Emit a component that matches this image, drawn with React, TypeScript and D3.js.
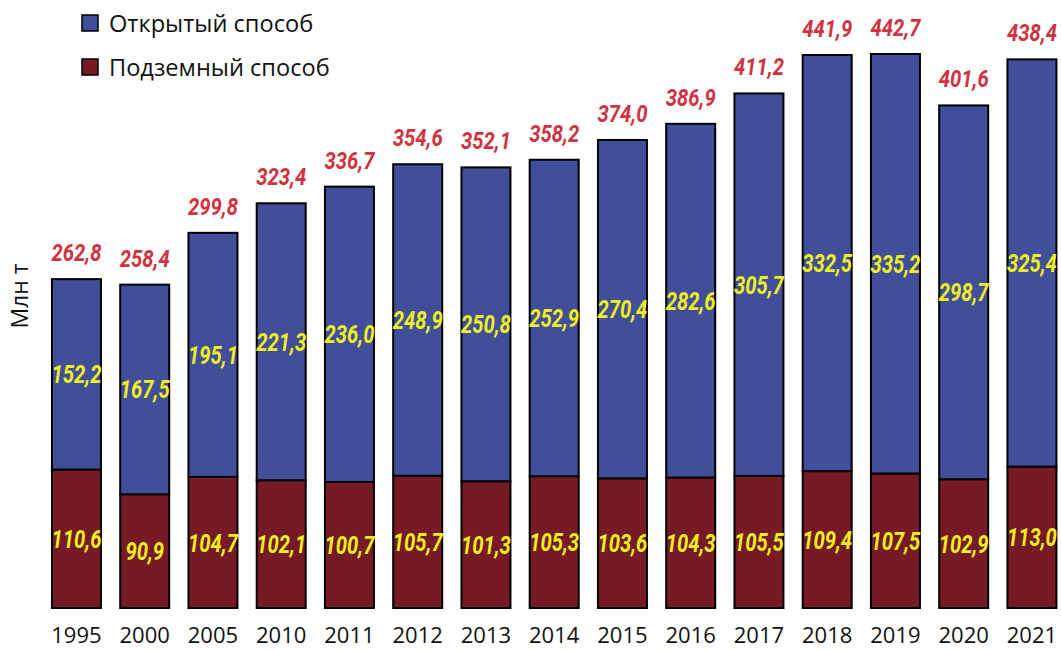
import React from "react";
import * as d3 from "d3";

const years = ["1995", "2000", "2005", "2010", "2011", "2012", "2013", "2014", "2015", "2016", "2017", "2018", "2019", "2020", "2021"];
const openPit = [152.2, 167.5, 195.1, 221.3, 236.0, 248.9, 250.8, 252.9, 270.4, 282.6, 305.7, 332.5, 335.2, 298.7, 325.4];
const underground = [110.6, 90.9, 104.7, 102.1, 100.7, 105.7, 101.3, 105.3, 103.6, 104.3, 105.5, 109.4, 107.5, 102.9, 113.0];
const totals = [262.8, 258.4, 299.8, 323.4, 336.7, 354.6, 352.1, 358.2, 374.0, 386.9, 411.2, 441.9, 442.7, 401.6, 438.4];
const seriesNames = ["Открытый способ", "Подземный способ"];
const yLabel = "Млн т";

const W = 1061;
const H = 650;
const colors = ["#414e99", "#761a25"];
const fmt = (v: number) => v.toFixed(1).replace(".", ",");
const labelFont = "Roboto, 'Noto Sans', sans-serif";
const textFont = "'Open Sans', 'Noto Sans', sans-serif";

export default function App() {
  const x = d3
    .scaleBand<string>()
    .domain(years)
    .range([42.4, 1066])
    .paddingInner(0.282)
    .paddingOuter(0.14);

  const y = d3.scaleLinear().domain([0, 441.9]).range([608, 55]);
  const bw = x.bandwidth();

  // yellow value label, squeezed to look like a condensed face
  const inner = (cx: number, cy: number, v: number) => (
    <text
      transform={`translate(${cx},${cy}) scale(0.81,1)`}
      dy="0.36em"
      textAnchor="middle"
      fontFamily={labelFont}
      fontWeight="bold"
      fontStyle="italic"
      fontSize={25}
      fill="#eeee22"
    >
      {fmt(v)}
    </text>
  );

  return (
    <div style={{ position: "absolute", left: 0, top: 0 }}>
      <svg width={W} height={H} style={{ display: "block", background: "#fff" }}>
        {years.map((yr, i) => {
          const x0 = x(yr) as number;
          const cx = x0 + bw / 2;
          const yU = y(underground[i]);
          const yT = y(underground[i] + openPit[i]);
          return (
            <g key={yr}>
              <rect x={x0} y={yU} width={bw} height={y(0) - yU} fill={colors[1]} stroke="#000" strokeWidth={2} />
              <rect x={x0} y={yT} width={bw} height={yU - yT} fill={colors[0]} stroke="#000" strokeWidth={2} />
              {inner(cx, (yU + y(0)) / 2, underground[i])}
              {inner(cx, (yU + yT) / 2, openPit[i])}
              <text
                transform={`translate(${cx},${y(totals[i]) - 18}) scale(0.88,1)`}
                textAnchor="middle"
                fontFamily={labelFont}
                fontWeight="bold"
                fontStyle="italic"
                fontSize={23}
                fill="#d1323f"
              >
                {fmt(totals[i])}
              </text>
              <text
                x={cx}
                y={643}
                textAnchor="middle"
                fontFamily={textFont}
                fontSize={22}
                fill="#111"
              >
                {yr}
              </text>
            </g>
          );
        })}

        <text
          transform={`translate(28,${296}) rotate(-90)`}
          textAnchor="middle"
          fontFamily={textFont}
          fontSize={23}
          fill="#111"
        >
          {yLabel}
        </text>

        {seriesNames.map((name, i) => (
          <g key={name} transform={`translate(82,${15 + i * 44})`}>
            <rect x={0} y={0} width={16} height={16} fill={colors[i]} stroke="#000" strokeWidth={1.5} />
            <text x={27} y={8} dy="0.36em" fontFamily={textFont} fontSize={23.6} fill="#111">
              {name}
            </text>
          </g>
        ))}
      </svg>
    </div>
  );
}
